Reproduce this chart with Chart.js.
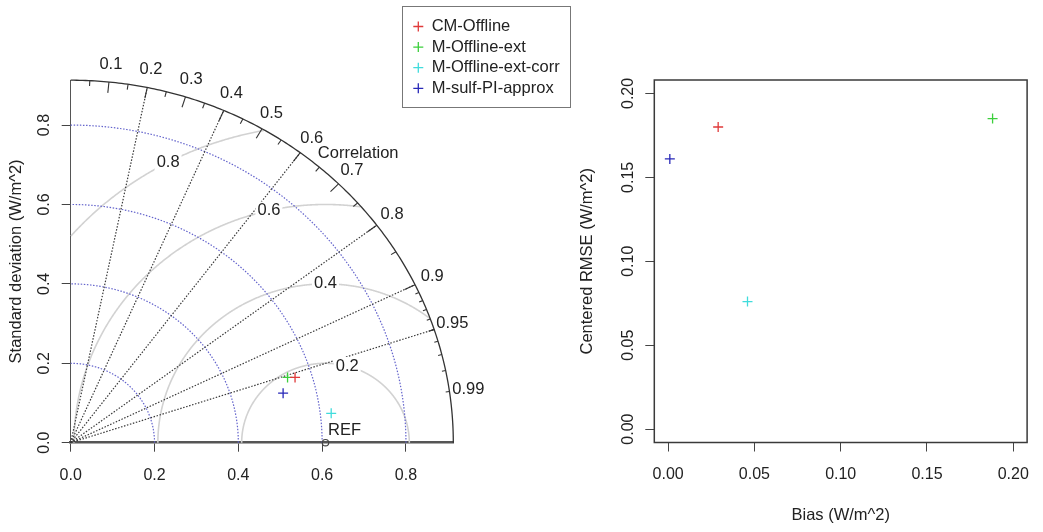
<!doctype html>
<html lang="en">
  <head>
    <meta charset="utf-8">
    <title>Taylor diagram and bias vs centered RMSE</title>
    <script src="https://cdn.jsdelivr.net/npm/chart.js"></script>
    <style>
      html, body {
        margin: 0;
        padding: 0;
        background: #fff;
      }
      .wrap {
        position: relative;
        width: 1043px;
        height: 532px;
      }
      .wrap canvas {
        position: absolute;
        left: 0;
        top: 0;
      }
    </style>
  </head>
  <body>
    <div class="wrap">
      <canvas id="taylorChart" width="1043" height="532"></canvas>
      <canvas id="biasChart" width="1043" height="532"></canvas>
    </div>

    <script>
      // values
      const models = ['CM-Offline', 'M-Offline-ext', 'M-Offline-ext-corr', 'M-sulf-PI-approx'];
      const stdDev = [0.560, 0.543, 0.626, 0.522];
      const correlation = [0.956, 0.953, 0.993, 0.971];
      const refStdDev = 0.608;
      const bias = [0.029, 0.188, 0.046, 0.001];
      const centeredRmse = [0.180, 0.185, 0.076, 0.161];

      // ticks and reference lines
      const sdTicks = [0, 0.2, 0.4, 0.6, 0.8];
      const sdMax = 0.913;
      const corrLabels = [0.1, 0.2, 0.3, 0.4, 0.5, 0.6, 0.7, 0.8, 0.9, 0.95, 0.99];
      const corrLines = [0.2, 0.4, 0.6, 0.8, 0.9, 0.95];
      const rmsContours = [0.2, 0.4, 0.6, 0.8];
      const biasTicks = [0, 0.05, 0.1, 0.15, 0.2];
      const rmseTicks = [0, 0.05, 0.1, 0.15, 0.2];

      // styles / layout
      const colors = ['#e03a3a', '#3ccf3c', '#40dcdc', '#2828b8'];
      const FONT = '"Liberation Sans", Arial, Helvetica, sans-serif';
      const TICK_SIZE = 16;
      const TEXT_SIZE = 16.5;
      const TICK_LEN = 9;
      const rmsLabelAngles = [75, 90, 103, 118];

      Chart.defaults.font.family = FONT;
      Chart.defaults.color = '#222';

      function tickLabelWidth(text) {
        const c = document.createElement('canvas').getContext('2d');
        c.font = TICK_SIZE + 'px ' + FONT;
        return c.measureText(text).width;
      }

      function fixedTicks(list) {
        return scale => { scale.ticks = list.map(v => ({ value: v })); };
      }

      // ---------- Taylor diagram ----------
      const taylorPoints = stdDev.map((s, i) => ({
        x: s * correlation[i],
        y: s * Math.sqrt(1 - correlation[i] * correlation[i])
      }));

      const taylorGrid = {
        id: 'taylorGrid',
        beforeDatasetsDraw(chart) {
          const ctx = chart.ctx;
          const sx = chart.scales.x, sy = chart.scales.y;
          const px = (x, y) => [sx.getPixelForValue(x), sy.getPixelForValue(y)];
          const path = pts => {
            ctx.beginPath();
            pts.forEach(([x, y], k) => {
              const [a, b] = px(x, y);
              if (k) ctx.lineTo(a, b); else ctx.moveTo(a, b);
            });
            ctx.stroke();
          };
          const arc = (cx, r, a0, a1, n) => {
            const pts = [];
            for (let k = 0; k <= n; k++) {
              const a = a0 + (a1 - a0) * k / n;
              pts.push([cx + r * Math.cos(a), r * Math.sin(a)]);
            }
            return pts;
          };

          ctx.save();

          // centered RMS contours round REF, clipped to the outer arc
          ctx.strokeStyle = '#d2d2d2';
          ctx.lineWidth = 1.6;
          rmsContours.forEach(r => {
            const pts = arc(refStdDev, r, 0, Math.PI, 900)
              .filter(([x, y]) => x >= 0 && x * x + y * y <= sdMax * sdMax);
            path(pts);
          });

          // standard deviation arcs
          ctx.lineWidth = 1.2;
          ctx.setLineDash([1.5, 1.6]);
          ctx.strokeStyle = '#6464cc';
          sdTicks.filter(v => v > 0).forEach(r => path(arc(0, r, 0, Math.PI / 2, 160)));

          // correlation rays
          ctx.strokeStyle = '#3a3a3a';
          corrLines.forEach(c => path([[0, 0], [sdMax * c, sdMax * Math.sqrt(1 - c * c)]]));
          ctx.setLineDash([]);

          // outer arc and correlation ticks
          ctx.strokeStyle = '#333';
          ctx.lineWidth = 1.3;
          path(arc(0, sdMax, 0, Math.PI / 2, 200));
          ctx.lineWidth = 1.1;
          const tick = (c, f) => {
            const s = Math.sqrt(1 - c * c);
            path([[sdMax * c, sdMax * s], [sdMax * f * c, sdMax * f * s]]);
          };
          for (let k = 1; k <= 9; k++) tick(k / 10, 0.97);
          for (let k = 0; k < 10; k++) tick(0.05 + k / 10, 0.985);
          for (let k = 1; k <= 9; k++) tick(0.9 + k / 100, 0.99);

          // texts
          ctx.fillStyle = '#222';
          ctx.textAlign = 'center';
          ctx.textBaseline = 'middle';
          ctx.font = TEXT_SIZE + 'px ' + FONT;
          corrLabels.forEach(c => {
            const [a, b] = px(1.05 * sdMax * c, 1.05 * sdMax * Math.sqrt(1 - c * c));
            ctx.fillText(String(c), a, b);
          });
          const [cx, cy] = px(0.686, 0.729);
          ctx.fillText('Correlation', cx, cy);

          rmsContours.forEach((r, i) => {
            const ang = rmsLabelAngles[i] * Math.PI / 180;
            const [a, b] = px(refStdDev + r * Math.cos(ang), r * Math.sin(ang));
            const label = r.toFixed(1);
            const w = ctx.measureText(label).width + 4;
            ctx.fillStyle = '#fff';
            ctx.fillRect(a - w / 2, b - 9, w, 18);
            ctx.fillStyle = '#222';
            ctx.fillText(label, a, b);
          });

          const [rx, ry] = px(refStdDev + 0.006, 0.032);
          ctx.textAlign = 'left';
          ctx.fillText('REF', rx, ry);
          ctx.restore();
        },
        afterDraw(chart) {
          // legend box
          const ctx = chart.ctx;
          ctx.save();
          ctx.strokeStyle = '#777';
          ctx.lineWidth = 1;
          ctx.strokeRect(402.5, 6.5, 168, 101);
          ctx.font = TEXT_SIZE + 'px ' + FONT;
          ctx.textAlign = 'left';
          ctx.textBaseline = 'middle';
          models.forEach((m, i) => {
            const y = 26.5 + i * 20.6;
            ctx.strokeStyle = colors[i];
            ctx.lineWidth = 1.3;
            ctx.beginPath();
            ctx.moveTo(413.3, y); ctx.lineTo(423.3, y);
            ctx.moveTo(418.3, y - 5); ctx.lineTo(418.3, y + 5);
            ctx.stroke();
            ctx.fillStyle = '#222';
            ctx.fillText(m, 431.7, y);
          });
          ctx.restore();
        }
      };

      const titleHalf = TEXT_SIZE * 1.2 / 2;
      const T = { left: 70.7, right: 453.3, top: 80.2, bottom: 442.7 };
      const tYLeft = 16.7 - titleHalf;

      new Chart(document.getElementById('taylorChart'), {
        type: 'scatter',
        data: {
          datasets: models.map((m, i) => ({
            label: m,
            data: [taylorPoints[i]],
            pointStyle: 'cross',
            pointRadius: 5,
            pointBorderWidth: 1.3,
            borderColor: colors[i],
            backgroundColor: colors[i],
            clip: false
          })).concat([{
            label: 'REF',
            data: [{ x: refStdDev, y: 0 }],
            pointStyle: 'circle',
            pointRadius: 3.2,
            pointBorderWidth: 1.2,
            borderColor: '#444',
            backgroundColor: 'rgba(0,0,0,0)',
            clip: false
          }])
        },
        options: {
          responsive: false,
          animation: false,
          devicePixelRatio: 1,
          events: [],
          layout: {
            padding: { left: tYLeft, top: T.top, right: 1043 - T.right, bottom: 532 - T.bottom - 50 }
          },
          plugins: { legend: { display: false }, tooltip: { enabled: false } },
          scales: {
            x: {
              type: 'linear',
              min: 0,
              max: sdMax,
              afterBuildTicks: fixedTicks(sdTicks),
              afterFit: s => { s.height = 50; },
              ticks: {
                callback: v => v.toFixed(1),
                font: { size: TICK_SIZE },
                padding: 476 - T.bottom - TICK_LEN - TICK_SIZE * 0.6,
                maxRotation: 0,
                autoSkip: false
              },
              grid: { drawOnChartArea: false, drawTicks: true, tickLength: TICK_LEN, tickColor: '#444', tickWidth: 1 },
              border: { display: true, color: '#555', width: 2.5 }
            },
            y: {
              type: 'linear',
              min: 0,
              max: sdMax,
              afterBuildTicks: fixedTicks(sdTicks),
              afterFit: s => { s.width = T.left - tYLeft; },
              ticks: {
                callback: v => v.toFixed(1),
                font: { size: TICK_SIZE },
                minRotation: 90,
                maxRotation: 90,
                crossAlign: 'center',
                padding: T.left - TICK_LEN - tickLabelWidth('0.0') / 2 - 45,
                autoSkip: false
              },
              title: {
                display: true,
                text: 'Standard deviation (W/m^2)',
                font: { size: TEXT_SIZE },
                padding: 0
              },
              grid: { drawOnChartArea: false, drawTicks: true, tickLength: TICK_LEN, tickColor: '#444', tickWidth: 1 },
              border: { display: true, color: '#555', width: 1 }
            }
          }
        },
        plugins: [taylorGrid]
      });

      // ---------- Bias vs centered RMSE ----------
      const boxPlugin = {
        id: 'box',
        beforeDatasetsDraw(chart) {
          const { ctx, chartArea: a } = chart;
          ctx.save();
          ctx.strokeStyle = '#3a3a3a';
          ctx.lineWidth = 1.5;
          ctx.strokeRect(a.left, a.top, a.right - a.left, a.bottom - a.top);
          ctx.restore();
        }
      };

      const B = { left: 654.3, right: 1037.3, top: 80, bottom: 442.5 };
      const bYLeft = 587 - titleHalf;
      const bXBottom = 515 + titleHalf;

      new Chart(document.getElementById('biasChart'), {
        type: 'scatter',
        data: {
          datasets: models.map((m, i) => ({
            label: m,
            data: [{ x: bias[i], y: centeredRmse[i] }],
            pointStyle: 'cross',
            pointRadius: 5,
            pointBorderWidth: 1.3,
            borderColor: colors[i],
            backgroundColor: colors[i]
          }))
        },
        options: {
          responsive: false,
          animation: false,
          devicePixelRatio: 1,
          events: [],
          layout: {
            padding: { left: bYLeft, top: B.top, right: 1043 - B.right, bottom: 532 - bXBottom }
          },
          plugins: { legend: { display: false }, tooltip: { enabled: false } },
          scales: {
            x: {
              type: 'linear',
              min: -0.008,
              max: 0.208,
              afterBuildTicks: fixedTicks(biasTicks),
              afterFit: s => { s.height = bXBottom - B.bottom; },
              ticks: {
                callback: v => v.toFixed(2),
                font: { size: TICK_SIZE },
                padding: 475 - B.bottom - TICK_LEN - TICK_SIZE * 0.6,
                maxRotation: 0,
                autoSkip: false
              },
              title: {
                display: true,
                text: 'Bias (W/m^2)',
                font: { size: TEXT_SIZE },
                padding: 0
              },
              grid: { drawOnChartArea: false, drawTicks: true, tickLength: TICK_LEN, tickColor: '#444', tickWidth: 1 },
              border: { display: false }
            },
            y: {
              type: 'linear',
              min: -0.008,
              max: 0.208,
              afterBuildTicks: fixedTicks(rmseTicks),
              afterFit: s => { s.width = B.left - bYLeft; },
              ticks: {
                callback: v => v.toFixed(2),
                font: { size: TICK_SIZE },
                minRotation: 90,
                maxRotation: 90,
                crossAlign: 'center',
                padding: B.left - TICK_LEN - tickLabelWidth('0.00') / 2 - 628.3,
                autoSkip: false
              },
              title: {
                display: true,
                text: 'Centered RMSE (W/m^2)',
                font: { size: TEXT_SIZE },
                padding: 0
              },
              grid: { drawOnChartArea: false, drawTicks: true, tickLength: TICK_LEN, tickColor: '#444', tickWidth: 1 },
              border: { display: false }
            }
          }
        },
        plugins: [boxPlugin]
      });
    </script>
  </body>
</html>
